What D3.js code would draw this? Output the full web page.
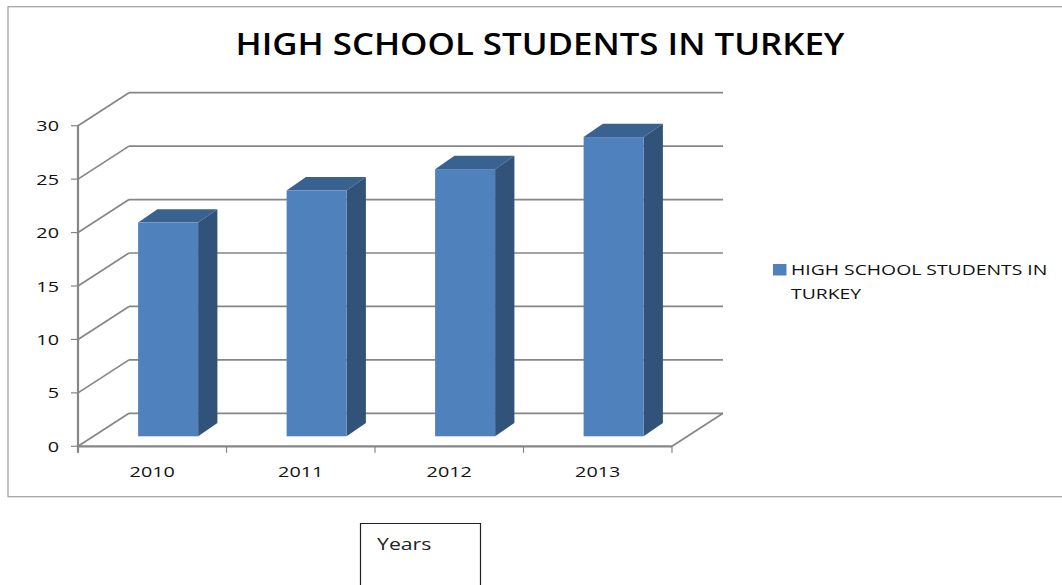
<!DOCTYPE html>
<html><head><meta charset="utf-8">
<script src="https://cdn.jsdelivr.net/npm/d3@7"></script>
<style>html,body{margin:0;padding:0;background:#fff}svg{display:block}text{font-family:"Open Sans",sans-serif}</style>
</head><body><svg id="c" width="1062" height="585"></svg>
<script>
const categories=["2010","2011","2012","2013"];
const seriesName="HIGH SCHOOL STUDENTS IN TURKEY";
const values=[20,23,25,28];
const yTicks=[0,5,10,15,20,25,30];
const legendLines=["HIGH SCHOOL STUDENTS IN","TURKEY"];
const svg=d3.select("#c");
const x=d3.scaleBand().domain(categories).range([78,672]);
const y=d3.scaleLinear().domain([0,30]).range([446.3,125.7]);
const depth={dx:51,dy:-33};
const grid="#868686";
function stretch(sel,k){sel.attr("textLength",sel.node().getComputedTextLength()*k).attr("lengthAdjust","spacingAndGlyphs");return sel;}
svg.append("rect").attr("x",8).attr("y",6.7).attr("width",1070).attr("height",490).attr("fill","#fff").attr("stroke","#a6a6a6").attr("stroke-width",1.3);
stretch(svg.append("text").attr("x",540).attr("y",55).attr("text-anchor","middle").attr("font-size",31.5).attr("font-weight",600).attr("fill","#000").text(seriesName),1.105);
const line=(a,b,c,d,w=1.7)=>svg.append("line").attr("x1",a).attr("y1",b).attr("x2",c).attr("y2",d).attr("stroke",grid).attr("stroke-width",w);
yTicks.forEach(t=>{
  line(78,y(t),78+depth.dx,y(t)+depth.dy);
  line(78+depth.dx,y(t)+depth.dy,672+depth.dx,y(t)+depth.dy);
  line(71,y(t),78,y(t),1.2);
  stretch(svg.append("text").attr("x",59).attr("y",y(t)+5.5).attr("text-anchor","end").attr("font-size",15).attr("fill","#111").text(t),1.32);
});
line(672,y(0),672+depth.dx,y(0)+depth.dy);
line(78,y(0),672,y(0),2.2);
line(78,y(30),78,y(0)+6.5,2.2);
categories.concat([null]).forEach(c=>{const px=c===null?x.range()[1]:x(c);line(px,y(0),px,y(0)+6.5,1.2);});
categories.forEach(c=>stretch(svg.append("text").attr("x",x(c)+x.bandwidth()/2).attr("y",477).attr("text-anchor","middle").attr("font-size",15).attr("fill","#111").text(c),1.32));
const t=10/33, bw=60, sx=19.3, sy=-13.4;
categories.forEach((c,i)=>{
  const l=x(c)+x.bandwidth()/2+t*depth.dx-bw/2+.4, r=l+bw, b=y(0)+t*depth.dy, top=b-(y(0)-y(values[i]));
  svg.append("path").attr("fill","#3a6290").attr("d",`M${l},${top}L${l+sx},${top+sy}L${r+sx},${top+sy}L${r},${top}Z`);
  svg.append("path").attr("fill","#325379").attr("d",`M${r},${top}L${r+sx},${top+sy}L${r+sx},${b+sy}L${r},${b}Z`);
  svg.append("rect").attr("fill","#4f81bd").attr("x",l).attr("y",top).attr("width",bw).attr("height",b-top);
});
svg.append("rect").attr("x",773).attr("y",264).attr("width",13.5).attr("height",11.5).attr("fill","#4f81bd");
legendLines.forEach((s,i)=>stretch(svg.append("text").attr("x",791).attr("y",274.5+i*24).attr("font-size",15).attr("fill","#111").text(s),1.29));
svg.append("path").attr("d","M360.5,585V523.5H480.5V585").attr("fill","none").attr("stroke","#222").attr("stroke-width",1.2);
stretch(svg.append("text").attr("x",377).attr("y",550).attr("font-size",17).attr("fill","#222").text("Years"),1.25);
</script></body></html>
